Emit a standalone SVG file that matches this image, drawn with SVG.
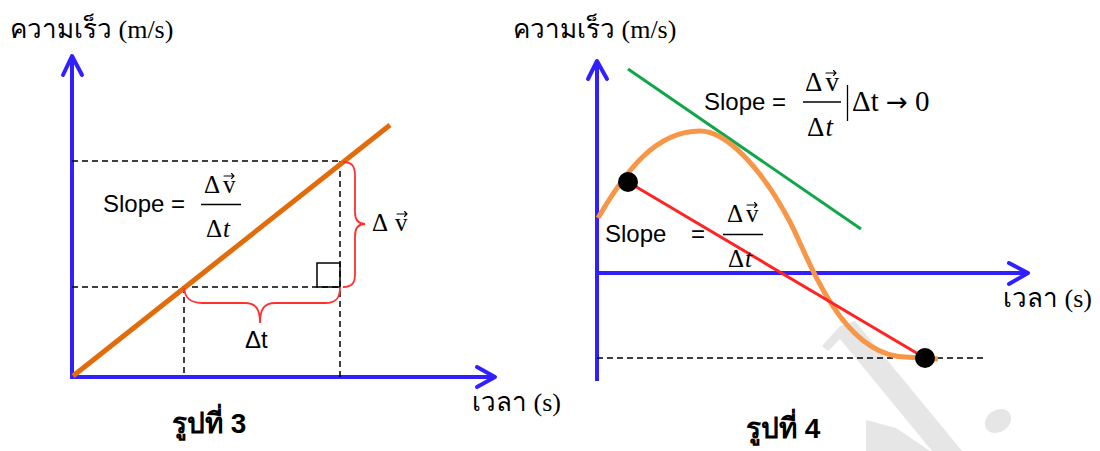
<svg xmlns="http://www.w3.org/2000/svg" width="1100" height="451" viewBox="0 0 1100 451">
<style>
.ax{stroke:#3020ff;stroke-width:4;fill:none}
.ah{stroke:#3020ff;stroke-width:4;fill:none;stroke-linecap:round;stroke-linejoin:round}
.dash{stroke:#000;stroke-width:1.5;stroke-dasharray:6 4;fill:none}
.th{font-family:"Liberation Serif","Noto Sans CJK SC",serif;font-size:26px;fill:#000}
.thb{font-family:"Liberation Sans","Noto Sans CJK SC",sans-serif;font-size:28px;font-weight:bold;fill:#000}
.sn{font-family:"Liberation Sans","Open Sans",sans-serif;font-size:24px;fill:#000}
.mt{font-family:"Liberation Serif",serif;font-size:25px;fill:#000}
.arr{font-family:"DejaVu Sans",sans-serif;font-size:26px}
.bar{stroke:#000;stroke-width:1.3}
.vec{stroke:#000;stroke-width:1.1;fill:none;stroke-linecap:round;stroke-linejoin:round}
.brace{stroke:#ff3030;stroke-width:1.8;fill:none}
.wm{fill:#e6e6e6}
</style>
<defs>
<path id="vecArrow" class="vec" d="M0,0 H10 M7.5,-2.5 L10,0 L7.5,2.5"/>
</defs>
<rect width="1100" height="451" fill="#fff"/>

<g id="watermark">
<polygon class="wm" points="822,346 840,326 855,321 962,451 932,451 840,339 828,351"/>
<polygon class="wm" points="866,420 896,428 930,451 866,451"/>
<ellipse class="wm" cx="998" cy="421" rx="14" ry="11" transform="rotate(-35 998 421)"/>
</g>

<g id="graph3">
<g id="axes3">
<line class="ax" x1="72" y1="379" x2="72" y2="57"/>
<polyline class="ah" points="63,75 72,56 82,75"/>
<line class="ax" x1="70" y1="377" x2="494" y2="377"/>
<polyline class="ah" points="477,367 495,377 477,387"/>
</g>
<text class="th" x="10" y="38">ความเร็ว (m/s)</text>
<text class="th" x="472" y="411">เวลา (s)</text>
<g id="guides3">
<line class="dash" x1="72" y1="161" x2="340" y2="161"/>
<line class="dash" x1="340" y1="161" x2="340" y2="377"/>
<line class="dash" x1="72" y1="287" x2="340" y2="287"/>
<line class="dash" x1="184" y1="287" x2="184" y2="377"/>
<rect x="317" y="263" width="23" height="24" fill="none" stroke="#000" stroke-width="1.5"/>
</g>
<line id="line3" x1="73" y1="376" x2="390" y2="125" stroke="#e36c0a" stroke-width="5"/>
<path class="brace" d="M343,162 C352,162 355,166 355,176 L355,212 C355,220 358,224 365,224 C358,224 355,228 355,236 L355,274 C355,283 352,287 343,287"/>
<path class="brace" d="M184,288 C185,298 190,303 202,303 L245,303 C255,303 260,308 260,323 C260,308 265,303 275,303 L325,303 C336,303 340,298 340,288"/>
<g id="dv-label">
<text class="mt" x="372" y="231">Δ <tspan dx="2">v</tspan></text>
<use href="#vecArrow" x="397" y="214"/>
</g>
<text class="sn" x="245" y="348">Δt</text>
<g id="formula3">
<text class="sn" x="103" y="212">Slope =</text>
<text class="mt" x="204" y="193">Δ<tspan dx="3">v</tspan></text>
<use href="#vecArrow" x="224" y="176"/>
<line class="bar" x1="201" y1="204.5" x2="241" y2="204.5"/>
<text class="mt" x="206" y="237">Δ<tspan dx="1" font-style="italic">t</tspan></text>
</g>
<text class="thb" x="172" y="433">รูปที่ 3</text>
</g>

<g id="graph4">
<g id="axes4">
<line class="ax" x1="597" y1="381" x2="597" y2="62"/>
<polyline class="ah" points="588,79 597,61 607,79"/>
<line class="ax" x1="595" y1="273" x2="1027" y2="273"/>
<polyline class="ah" points="1009,263 1028,273 1009,284"/>
</g>
<text class="th" x="513" y="38">ความเร็ว (m/s)</text>
<text class="th" x="1003" y="307">เวลา (s)</text>
<line class="dash" x1="597" y1="358" x2="983" y2="358"/>
<line id="tangent" x1="628" y1="69" x2="861" y2="229" stroke="#12a64a" stroke-width="3"/>
<path id="curve" d="M598,218 C625,172 655,131 700,131 C725,131 760,165 790,222 C808,256 840,355 905,357 L938,359" fill="none" stroke="#f79646" stroke-width="5"/>
<line id="secant" x1="628" y1="182" x2="925" y2="358" stroke="#ff2424" stroke-width="3"/>
<circle cx="628" cy="182" r="10" fill="#000"/>
<circle cx="925" cy="358" r="10" fill="#000"/>
<g id="formula4a">
<text class="sn" x="704" y="110">Slope =</text>
<text class="mt" x="805" y="91" style="font-size:27px">Δ<tspan dx="3">v</tspan></text>
<use href="#vecArrow" x="826" y="73"/>
<line class="bar" x1="803" y1="102" x2="841" y2="102"/>
<text class="mt" x="807" y="136" style="font-size:27px">Δ<tspan dx="1" font-style="italic">t</tspan></text>
<line class="bar" x1="847.5" y1="85" x2="847.5" y2="121"/>
<text class="mt" x="852" y="111" style="font-size:29px">Δt <tspan class="arr">→</tspan> 0</text>
</g>
<g id="formula4b">
<text class="sn" x="605" y="242">Slope</text>
<text class="sn" x="691" y="242">=</text>
<text class="mt" x="727" y="222">Δ<tspan dx="3">v</tspan></text>
<use href="#vecArrow" x="747" y="205"/>
<line class="bar" x1="723" y1="234.5" x2="763" y2="234.5"/>
<text class="mt" x="728" y="267">Δ<tspan dx="1" font-style="italic">t</tspan></text>
</g>
<text class="thb" x="746" y="438">รูปที่ 4</text>
</g>
</svg>
